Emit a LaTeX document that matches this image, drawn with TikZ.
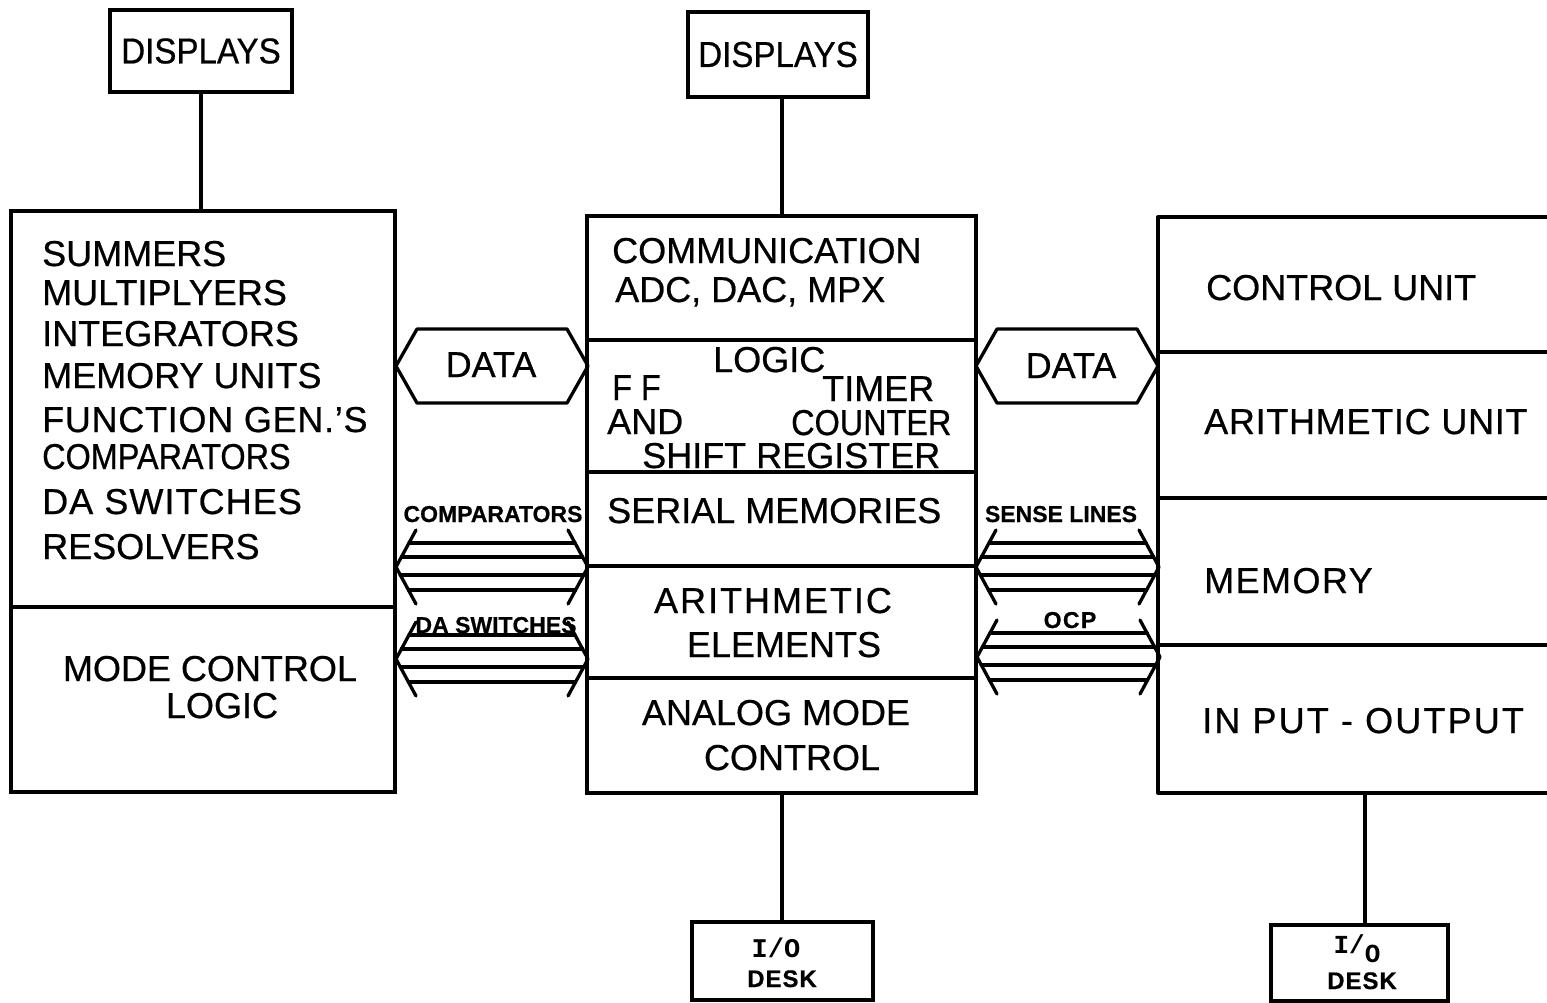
\documentclass[tikz,border=0pt]{standalone}
\usepackage{fontspec}
\setmainfont[FakeBold=0.6]{Liberation Sans}
\newfontfamily\narrowf[FakeStretch=0.9,FakeBold=0.6]{Liberation Sans}
\newfontfamily\dispf[FakeStretch=0.92,FakeBold=0.6]{Liberation Sans}
\newfontfamily\monof{Liberation Mono}
\newcommand\mysz{\fontsize{36}{40}\selectfont}
\newcommand\lblsz{\fontsize{23}{25}\selectfont}
\newcommand\iosz{\fontsize{24}{26}\selectfont}
\newcommand\lsp[1]{\addfontfeature{LetterSpace=#1}}

\tikzset{
  ln/.style={line width=3.3pt, line cap=round, line join=round},
  boxn/.style={draw, line width=3.3pt, rectangle, inner sep=0pt, font=\mysz},
  txt/.style={inner sep=0pt, font=\mysz, anchor=base west},
  ctxt/.style={inner sep=0pt, font=\mysz, anchor=base},
  lbl/.style={inner sep=0pt, font=\lblsz\bfseries, anchor=base},
  iot/.style={inner sep=0pt, font=\iosz\bfseries, anchor=base},
}

\newcommand\busarrow[3]{%
  \draw[ln] ({#1+20},{#3-37}) -- (#1,#3) -- ({#1+20},{#3+37});
  \draw[ln] ({#2-20},{#3-37}) -- (#2,#3) -- ({#2-20},{#3+37});
  \foreach \d in {-24,-10,8,23}{
    \draw[ln] ({#1+20*abs(\d)/37},{#3+\d}) -- ({#2-20*abs(\d)/37},{#3+\d});
  }%
}
\newcommand\hexdata[3]{%
  \draw[ln] (#1,#3) -- ({#1+21},{#3-37}) -- ({#2-21},{#3-37}) -- (#2,#3)
    -- ({#2-21},{#3+37}) -- ({#1+21},{#3+37}) -- cycle;
}

\begin{document}
\begin{tikzpicture}[x=1pt,y=-1pt]
\useasboundingbox[fill=white] (0,0) rectangle (1547,1002);

% ---------------- boxes ----------------
\node[boxn, minimum width=182pt, minimum height=82pt] (dispL) at (201,51) {\dispf DISPLAYS};
\node[boxn, minimum width=180pt, minimum height=85pt] (dispM) at (778,54.5) {\dispf DISPLAYS};
\node[boxn, minimum width=384pt, minimum height=581pt] (leftbox) at (203,501.5) {};
\node[boxn, minimum width=389pt, minimum height=577pt] (midbox) at (781.5,504.5) {};
\node[boxn, minimum width=181pt, minimum height=78pt] (ioM) at (782.5,961) {};
\node[boxn, minimum width=177pt, minimum height=76pt] (ioR) at (1359.5,963) {};

% right box (open to the right edge)
\draw[ln] (1552,217) -- (1158,217) -- (1158,793) -- (1552,793);
\coordinate (rtop) at (1158,217);
\coordinate (rbot) at (1365,793);
\foreach \yy in {352,498,645} \draw[ln] (1158,\yy) -- (1552,\yy);

% dividers
\draw[ln] (11,607) -- (395,607);
\foreach \yy in {340,472,566,678} \draw[ln] (587,\yy) -- (976,\yy);

% ---------------- connectors ----------------
\coordinate (mx) at (782,0);
\draw[ln] (dispL) -- (dispL |- leftbox.north);
\draw[ln] (dispM.south -| mx) -- (midbox.north -| mx);
\draw[ln] (midbox.south -| mx) -- (ioM.north -| mx);
\draw[ln] (rbot) -- (ioR.north -| rbot);

% data hexagons
\hexdata{396}{588}{366}
\hexdata{976}{1158}{366}
\node[ctxt] (dataL) at (491,377) {DATA};
\node[ctxt] (dataR) at (1071,378) {DATA};

% buses
\busarrow{396}{588}{567}
\busarrow{396}{588}{659}
\busarrow{976}{1159}{567}
\busarrow{977}{1160}{657}
\node[lbl] (lcomp) at (493,522) {COMPARATORS};
\node[lbl] (lda) at (496,633) {DA SWITCHES};
\node[lbl] (lsense) at (1061,522) {SENSE LINES};
\node[lbl] (locp) at (1070,628) {\lsp{6}OCP};

% ---------------- left box text ----------------
\node[txt] (t1) at (42,266) {SUMMERS};
\node[txt] (t2) at (42,305) {MULTIPLYERS};
\node[txt] (t3) at (42,346) {INTEGRATORS};
\node[txt] (t4) at (42,388) {MEMORY UNITS};
\node[txt] (t5) at (42,432) {\lsp{2}FUNCTION GEN.'S};
\node[txt] (t6) at (42,469) {\narrowf COMPARATORS};
\node[txt] (t7) at (42,514) {\lsp{3}DA SWITCHES};
\node[txt] (t8) at (42,559) {RESOLVERS};
\node[ctxt] (t9) at (210,681) {MODE CONTROL};
\node[ctxt] (t10) at (222,718) {LOGIC};

% ---------------- middle box text ----------------
\node[txt] (m1) at (612,263) {COMMUNICATION};
\node[txt] (m2) at (615,302) {ADC, DAC, MPX};
\node[txt] (m3) at (713,372) {LOGIC};
\node[txt] (m4) at (612,400) {\narrowf F F};
\node[txt] (m5) at (822,401) {TIMER};
\node[txt] (m6) at (607,434) {AND};
\node[txt] (m7) at (791,435) {\narrowf COUNTER};
\node[txt] (m8) at (642,468) {SHIFT REGISTER};
\node[txt] (m9) at (607,523) {SERIAL MEMORIES};
\node[ctxt] (m10) at (773,613) {\lsp{5.5}ARITHMETIC};
\node[ctxt] (m11) at (784,657) {ELEMENTS};
\node[ctxt] (m12) at (776,725) {ANALOG MODE};
\node[ctxt] (m13) at (792,770) {CONTROL};

% ---------------- right box text ----------------
\node[txt] (r1) at (1206,300) {CONTROL UNIT};
\node[txt] (r2) at (1204,434) {\lsp{2}ARITHMETIC UNIT};
\node[txt] (r3) at (1204,593) {\lsp{4}MEMORY};
\node[txt] (r4) at (1202,733) {\lsp{6}IN PUT - OUTPUT};

% ---------------- I/O desks ----------------
\node[iot] (io1) at (776,957) {\fontsize{27}{29}\selectfont\monof I/O};
\node[iot] (io2) at (782,987) {\lsp{4}DESK};
\node[iot] (io3) at (1357,957) {\fontsize{26}{28}\selectfont\monof\raisebox{0.15em}{I/}\raisebox{-0.2em}{O}};
\node[iot] (io4) at (1362,989) {\lsp{4}DESK};
\end{tikzpicture}
\end{document}
